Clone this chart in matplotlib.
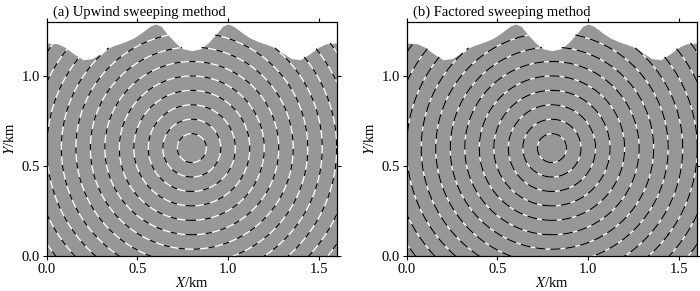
import numpy as np
import matplotlib
matplotlib.use('Agg')
import matplotlib.pyplot as plt

plt.rcParams['font.family'] = ['Liberation Serif', 'DejaVu Serif']
plt.rcParams['mathtext.fontset'] = 'stix'
plt.rcParams['font.size'] = 10

# surface topography (km)
topo_x = [0.00, 0.06, 0.10, 0.15, 0.20, 0.25, 0.30, 0.36, 0.43, 0.48, 0.52, 0.57,
          0.60, 0.63, 0.66, 0.71, 0.75, 0.80, 0.85, 0.89, 0.94, 0.97, 1.00, 1.03,
          1.08, 1.12, 1.17, 1.24, 1.30, 1.35, 1.40, 1.45, 1.50, 1.54, 1.60]
topo_y = [1.183, 1.178, 1.159, 1.122, 1.090, 1.096, 1.128, 1.165, 1.189, 1.211, 1.238, 1.276,
          1.288, 1.276, 1.238, 1.183, 1.151, 1.140, 1.151, 1.183, 1.238, 1.276, 1.288, 1.276,
          1.238, 1.211, 1.189, 1.165, 1.128, 1.096, 1.090, 1.122, 1.159, 1.178, 1.183]

# point source and travel-time contour levels (expressed as distance, km)
source = (0.8, 0.6)
levels = [0.08, 0.16, 0.24, 0.32, 0.40, 0.48, 0.56, 0.64, 0.72, 0.80, 0.88, 0.96]

titles = ['(a) Upwind sweeping method', '(b) Factored sweeping method']
xticks = [0.0, 0.5, 1.0, 1.5]
yticks = [0.0, 0.5, 1.0]

# grid for the contour field, masked above the surface
gx = np.linspace(0, 1.6, 641)
gy = np.linspace(0, 1.3, 521)
X, Y = np.meshgrid(gx, gy)
D = np.hypot(X - source[0], Y - source[1])
surf = np.interp(gx, topo_x, topo_y)
D = np.ma.masked_where(Y > surf[None, :] + 0.003, D)

fig = plt.figure(figsize=(7.0, 2.91), dpi=100)
axes = [fig.add_axes([0.067, 0.119, 0.414, 0.806]),
        fig.add_axes([0.581, 0.119, 0.415, 0.806])]

styles = [
    # (under line colour, over line colour, dash pattern)
    ('white', 'black', (5, 7)),
    ('white', 'black', (8, 4)),
]

for ax, title, (c1, c2, dash) in zip(axes, titles, styles):
    ax.fill_between(topo_x, 0, topo_y, color='#979797', lw=0, zorder=1)
    ax.contour(gx, gy, D, levels=levels, colors=c1, linewidths=0.9, zorder=2)
    ax.contour(gx, gy, D, levels=levels, colors=c2, linewidths=0.9,
               linestyles=[(0, dash)], zorder=3)
    ax.set_xlim(0, 1.6)
    ax.set_ylim(0, 1.3)
    ax.set_xticks(xticks)
    ax.set_yticks(yticks)
    ax.set_xticklabels(['%.1f' % v for v in xticks])
    ax.set_yticklabels(['%.1f' % v for v in yticks])
    ax.tick_params(direction='out', length=3, width=0.8, top=True, right=True,
                   labelsize=10.5, pad=2)
    for s in ax.spines.values():
        s.set_linewidth(0.9)
    ax.set_xlabel('$X$/km', fontsize=10.5, labelpad=0)
    ax.set_ylabel('$Y$/km', fontsize=10.5, labelpad=3)
    ax.text(0.02, 1.012, title, transform=ax.transAxes, ha='left', va='bottom',
            fontsize=10.5)

fig.savefig('out.png', dpi=100)
